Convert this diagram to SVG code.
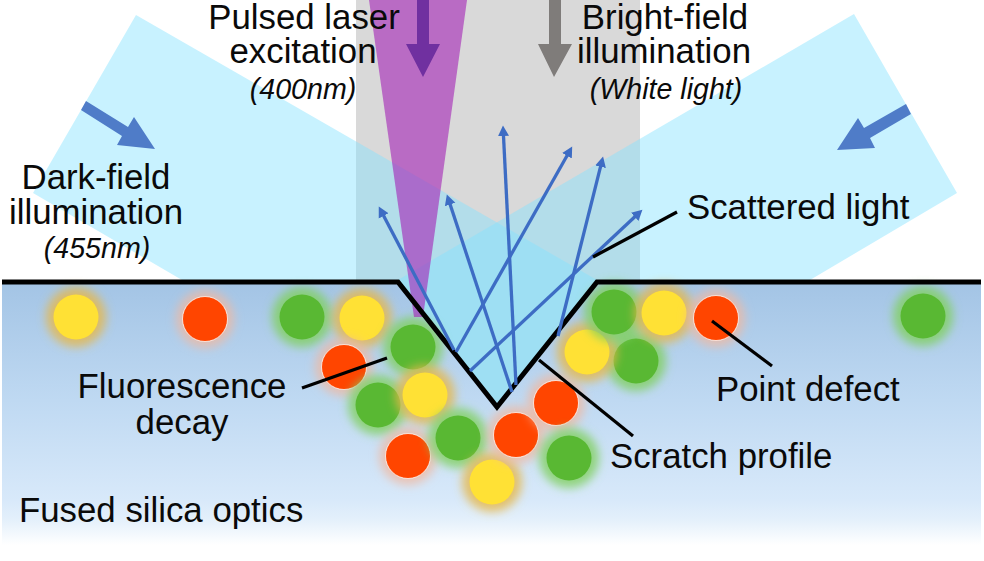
<svg xmlns="http://www.w3.org/2000/svg" width="984" height="561" viewBox="0 0 984 561">
  <style>
    text { font-family: "Liberation Sans", Arial, sans-serif; font-size: 34.8px; fill: #0a0a0a; }
    .c { text-anchor: middle; }
    .i { font-style: italic; font-size: 28.6px; }
    .beam { fill: #85e2ff; fill-opacity: 0.45; }
    .scat { stroke: #3d6cc4; stroke-width: 3.3; fill: none; marker-end: url(#head); }
    .lead { stroke: #000; stroke-width: 3.2; fill: none; }
    .green { fill: #59b833; }
    .yellow { fill: #ffe135; }
    .red { fill: #ff4500; stroke: #fff; stroke-opacity: .75; stroke-width: 1; }
    .gg { fill: #7fd05f; fill-opacity: .8; filter: url(#soft); }
    .gy { fill: #e6b84a; fill-opacity: .8; filter: url(#soft); }
    .gr { fill: #f0b8a0; fill-opacity: .75; filter: url(#soft); }
  </style>
  <defs>
    <linearGradient id="glass" x1="0" y1="0" x2="0" y2="1">
      <stop offset="0" stop-color="#a3c4e5"/>
      <stop offset="0.45" stop-color="#bfd9f2"/>
      <stop offset="0.83" stop-color="#d8e9fa"/>
      <stop offset="0.905" stop-color="#e4f0fb"/>
      <stop offset="1" stop-color="#ffffff"/>
    </linearGradient>
    <filter id="soft" x="-40%" y="-40%" width="180%" height="180%">
      <feGaussianBlur stdDeviation="5"/>
    </filter>
    <marker id="head" markerUnits="userSpaceOnUse" markerWidth="13" markerHeight="13" refX="2" refY="6.500" orient="auto">
      <path d="M0,1 L10.500,6.500 L0,12 Z" fill="#3d6cc4"/>
    </marker>
    <g id="d-green"><circle r="30" class="gg"/><circle r="22.5" class="green"/></g>
    <g id="d-yellow"><circle r="30" class="gy"/><circle r="22.5" class="yellow"/></g>
    <g id="d-red"><circle r="29" class="gr"/><circle r="22.5" class="red"/></g>
  </defs>

  <!-- Glass substrate -->
  <rect id="silica" x="2" y="282" width="979" height="263" fill="url(#glass)"/>

  <!-- Bright-field column and the two dark-field beams, stopped at the surface profile -->
  <polygon id="bright-field-beam" points="356,0 640,0 640,282 597,282 497,407 398,282 356,282" fill="#d9d9d9"/>
  <polygon id="dark-field-left" class="beam" points="136,15 33,193 182,280 398,280 497,407 597,280"/>
  <polygon id="dark-field-right" class="beam" points="854,14 957,193 810,280 597,280 497,407 398,280"/>

  <!-- Defects in the glass -->
  <g id="defects">
    <use href="#d-yellow" x="76" y="317"/>
    <use href="#d-red" x="205" y="319"/>
    <use href="#d-green" x="302" y="317"/>
    <use href="#d-yellow" x="362" y="318"/>
    <use href="#d-red" x="344" y="367"/>
    <use href="#d-green" x="378" y="405"/>
    <use href="#d-green" x="413" y="347"/>
    <use href="#d-yellow" x="425" y="395"/>
    <use href="#d-red" x="408" y="456"/>
    <use href="#d-green" x="458" y="438"/>
    <use href="#d-yellow" x="492" y="482"/>
    <use href="#d-red" x="516" y="435"/>
    <use href="#d-red" x="556" y="403"/>
    <use href="#d-green" x="569" y="458"/>
    <use href="#d-green" x="636" y="361"/>
    <use href="#d-yellow" x="587" y="352"/>
    <use href="#d-green" x="614" y="312"/>
    <use href="#d-yellow" x="664" y="313"/>
    <use href="#d-red" x="716" y="318"/>
    <use href="#d-green" x="923" y="316"/>
  </g>

  <!-- Focused excitation cone -->
  <polygon id="laser-beam" points="369,0 467,0 423,317 414,317" fill="#a321b6" fill-opacity="0.6"/>

  <!-- Surface with the scratch -->
  <polyline id="surface" points="2,282 398,282 497,407 597,282 981,282" fill="none" stroke="#000" stroke-width="5" stroke-linejoin="miter"/>

  <!-- Illumination direction arrows -->
  <g id="illumination-arrows">
    <polygon points="417,0 429,0 429,44 440,44 423,77 406,44 417,44" fill="#7030a0"/>
    <polygon points="549,0 561,0 561,44 572,44 554,77 538,44 549,44" fill="#7f7c7a"/>
    <polygon points="86,101 81,110 122,136 117,145 155,149 134,117 128,127" fill="#4f7cc8"/>
    <polygon points="906,104 911,114 870,138 875,148 837,150 858,118 864,128" fill="#4f7cc8"/>
  </g>

  <!-- Connectors: scattered rays and label leaders -->
  <g id="connectors">
    <line class="scat" x1="454" y1="350" x2="382.700" y2="214.100"/>
    <line class="scat" x1="512" y1="392" x2="449.500" y2="202.600"/>
    <line class="scat" x1="516" y1="385" x2="503.400" y2="134"/>
    <line class="scat" x1="456" y1="352" x2="568" y2="154"/>
    <line class="scat" x1="558" y1="336" x2="601" y2="164.800"/>
    <line class="scat" x1="470" y1="371" x2="636.200" y2="215.500"/>
    <line class="lead" x1="677" y1="212" x2="593" y2="257"/>
    <line class="lead" x1="302" y1="388" x2="387" y2="358"/>
    <line class="lead" x1="712" y1="321" x2="772" y2="366"/>
    <line class="lead" x1="539" y1="360" x2="633" y2="436"/>
  </g>

  <!-- Labels -->
  <g id="label-laser">
    <text class="c" x="304" y="29">Pulsed laser</text>
    <text class="c" x="303" y="63">excitation</text>
    <text class="c i" x="303" y="99">(400nm)</text>
  </g>
  <g id="label-bright">
    <text class="c" x="665" y="29">Bright-field</text>
    <text class="c" x="664" y="63">illumination</text>
    <text class="c i" x="666" y="99">(White light)</text>
  </g>
  <g id="label-dark">
    <text class="c" x="96" y="189">Dark-field</text>
    <text class="c" x="96" y="224">illumination</text>
    <text class="c i" x="97" y="258">(455nm)</text>
  </g>
  <g id="label-scattered"><text x="687" y="219">Scattered light</text></g>
  <g id="label-point"><text x="716" y="401">Point defect</text></g>
  <g id="label-fluorescence">
    <text class="c" x="182" y="398">Fluorescence</text>
    <text class="c" x="182" y="434">decay</text>
  </g>
  <g id="label-scratch"><text x="610" y="468">Scratch profile</text></g>
  <g id="label-silica"><text x="19" y="522">Fused silica optics</text></g>
</svg>
